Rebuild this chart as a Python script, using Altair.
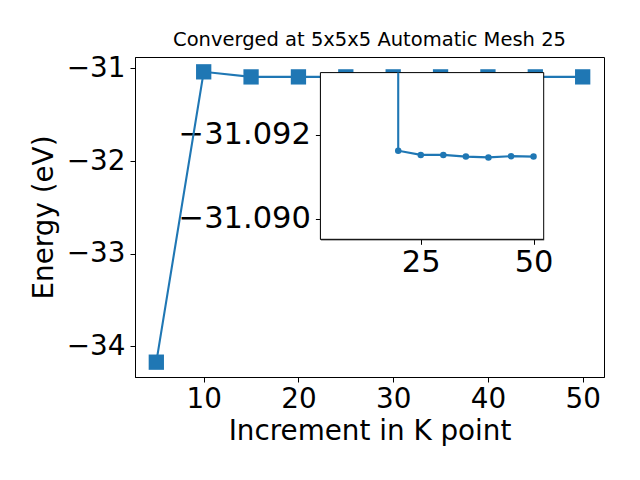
import altair as alt
import pandas as pd

# ---- data ----
k_points = [5, 10, 15, 20, 25, 30, 35, 40, 45, 50]
energies = [-34.17, -31.037, -31.0918, -31.0916, -31.0915, -31.0915,
            -31.0915, -31.0915, -31.0915, -31.0915]

inset_k = [20, 20, 25, 30, 35, 40, 45, 50]
inset_e = [-31.10, -31.09162, -31.09152, -31.09152, -31.09148,
           -31.09146, -31.09149, -31.09148]

main_xlim = [2.75, 52.25]
main_ylim = [-34.33, -30.877]
inset_xlim = [2.75, 52.25]
inset_ylim = [-31.09348, -31.08951]

main_xticks = [10, 20, 30, 40, 50]
main_yticks = [-34, -33, -32, -31]
inset_xticks = [25, 50]
inset_yticks = [-31.092, -31.090]

title_text = "Converged at 5x5x5 Automatic Mesh 25"
x_title = "Increment in K point"
y_title = "Energy (eV)"

# ---- layout constants ----
W, H = 469, 320
INSET_X = [185.4, 408.7]
INSET_Y = [15.6, 182.3]
BLUE = "#1f77b4"
FONT = "DejaVu Sans"
FS = 27.8
FS_INSET = 30.5

main_df = pd.DataFrame({"k": k_points, "e": energies})
inset_line_df = pd.DataFrame({"k": inset_k, "e": inset_e})
inset_pts_df = pd.DataFrame({"k": inset_k[1:], "e": inset_e[1:]})
frame_df = pd.DataFrame({"x1": [inset_xlim[0]], "x2": [inset_xlim[1]],
                         "y1": [inset_ylim[0]], "y2": [inset_ylim[1]]})

mx = alt.X("k:Q", scale=alt.Scale(domain=main_xlim, nice=False, zero=False),
           axis=alt.Axis(values=main_xticks, title=x_title, format="d",
                         labelPadding=3, titlePadding=5))
my = alt.Y("e:Q", scale=alt.Scale(domain=main_ylim, nice=False, zero=False),
           axis=alt.Axis(values=main_yticks, title=y_title, format="d",
                         labelPadding=5, titlePadding=7.5))

main_line = alt.Chart(main_df).mark_line(color=BLUE, strokeWidth=2.1).encode(x=mx, y=my)
main_pts = alt.Chart(main_df).mark_square(color=BLUE, size=234, opacity=1).encode(x=mx, y=my)
main = alt.layer(main_line, main_pts)

ix_scale = alt.Scale(domain=inset_xlim, range=INSET_X, nice=False, zero=False)
iy_scale = alt.Scale(domain=inset_ylim, range=INSET_Y, nice=False, zero=False, clamp=True)
ix_axis = alt.Axis(values=inset_xticks, title=None, format="d", orient="bottom",
                   offset=-(H - INSET_Y[1]), labelFontSize=FS_INSET, labelPadding=3)
iy_axis = alt.Axis(values=inset_yticks, title=None, format=".3f", orient="left",
                   offset=-INSET_X[0], labelFontSize=FS_INSET, labelPadding=5)

frame = alt.Chart(frame_df).mark_rect(fill="white", stroke="black", strokeWidth=1).encode(
    x=alt.X("x1:Q", scale=ix_scale, axis=ix_axis),
    x2="x2:Q",
    y=alt.Y("y1:Q", scale=iy_scale, axis=iy_axis),
    y2="y2:Q",
)
ix = alt.X("k:Q", scale=ix_scale, axis=ix_axis)
iy = alt.Y("e:Q", scale=iy_scale, axis=iy_axis)
inset_line = alt.Chart(inset_line_df).mark_line(color=BLUE, strokeWidth=2.1).encode(x=ix, y=iy)
inset_pts = alt.Chart(inset_pts_df).mark_circle(color=BLUE, size=42, opacity=1).encode(x=ix, y=iy)
inset = alt.layer(frame, inset_line, inset_pts)

chart = alt.layer(main, inset).resolve_scale(
    x="independent", y="independent"
).resolve_axis(x="independent", y="independent").properties(
    width=W, height=H,
    background="white",
    title=alt.TitleParams(title_text, fontSize=19.5, font=FONT, fontWeight="normal",
                          anchor="middle", frame="group", offset=-11, baseline="alphabetic",
                          color="black"),
    autosize=alt.AutoSizeParams(type="none"),
    padding={"left": 127, "top": 49, "right": 20, "bottom": 90},
).configure_view(stroke="black", strokeWidth=1).configure_axis(
    grid=False, domainColor="black", tickColor="black", tickSize=5, tickWidth=1,
    domainWidth=1, labelFont=FONT, labelFontSize=FS, labelColor="black",
    titleFont=FONT, titleFontSize=FS, titleFontWeight="normal", titleColor="black",
    labelFlush=False, labelOverlap=False,
)

chart.save("out.html", embed_options={"renderer": "svg", "actions": False})
